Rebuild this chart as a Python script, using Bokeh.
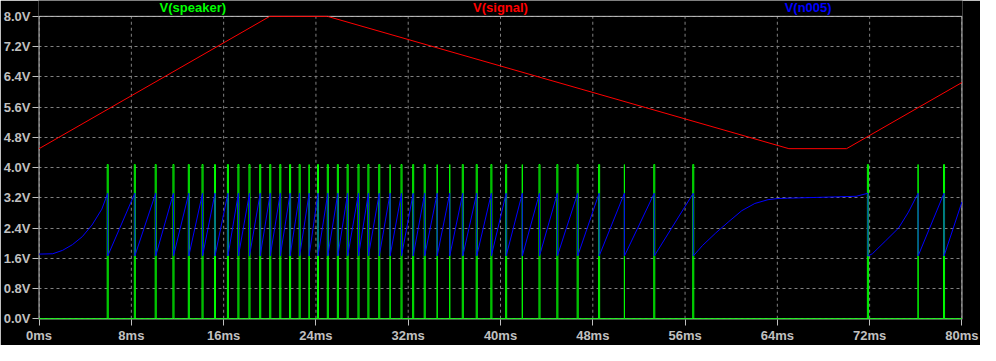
from bokeh.plotting import figure
from bokeh.models import FixedTicker, Range1d
from bokeh.core.properties import value
from bokeh.embed import file_html
from bokeh.resources import INLINE

# ---------------- data ----------------
x_ticks = [0, 8, 16, 24, 32, 40, 48, 56, 64, 72, 80]
x_labels = ["0ms", "8ms", "16ms", "24ms", "32ms", "40ms", "48ms", "56ms", "64ms", "72ms", "80ms"]
y_ticks = [0.0, 0.8, 1.6, 2.4, 3.2, 4.0, 4.8, 5.6, 6.4, 7.2, 8.0]
y_labels = ["0.0V", "0.8V", "1.6V", "2.4V", "3.2V", "4.0V", "4.8V", "5.6V", "6.4V", "7.2V", "8.0V"]

trace_names = ["V(speaker)", "V(signal)", "V(n005)"]
trace_colors = ["#00ff00", "#ff0000", "#0000ff"]
title_x_ms = [13.33, 40.0, 66.67]

# V(signal): triangle sweep
signal_t = [0, 20, 25, 65, 70, 80]
signal_v = [4.5, 8.0, 8.0, 4.5, 4.5, 6.25]

# V(speaker): pulse times (ms), pulse widths (ms) and pulse height (V)
pulse_ms = [5.95, 8.30, 10.11, 11.65, 12.98, 14.17, 15.25, 16.37, 17.28, 18.24,
            19.17, 20.04, 20.91, 21.76, 22.59, 23.41, 24.18, 25.03, 25.90, 26.75,
            27.69, 28.55, 29.49, 30.43, 31.42, 32.43, 33.43, 34.51, 35.60, 36.73,
            37.94, 39.21, 40.49, 41.89, 43.38, 44.93, 46.69, 48.55, 50.74, 53.33,
            56.71, 71.85, 76.20, 78.45]
pulse_w = [0.09, 0.09, 0.09, 0.09, 0.09, 0.09, 0.09, 0.09, 0.09, 0.09,
           0.09, 0.09, 0.09, 0.09, 0.09, 0.0, 0.09, 0.09, 0.09, 0.09,
           0.09, 0.09, 0.09, 0.0, 0.09, 0.09, 0.09, 0.0, 0.0, 0.09,
           0.09, 0.09, 0.09, 0.0, 0.09, 0.09, 0.09, 0.09, 0.0, 0.09,
           0.09, 0.09, 0.0, 0.09]
pulse_top = 4.08

# V(n005): capacitor sawtooth
saw_peak = 3.32
saw_trough = 1.66
start_t = [0.0, 1.19, 2.04, 2.89, 3.74, 4.59, 5.44, 5.95]
start_v = [1.71, 1.72, 1.81, 1.96, 2.17, 2.48, 2.90, 3.32]
stall_t = [57.52, 58.66, 59.79, 60.92, 62.05, 63.19, 64.03, 64.88, 67.43, 70.83, 71.85]
stall_v = [1.94, 2.27, 2.57, 2.86, 3.05, 3.15, 3.18, 3.19, 3.21, 3.24, 3.32]
ramp_t = [72.24, 73.38, 74.51, 75.36, 76.20]
ramp_v = [1.72, 2.06, 2.40, 2.82, 3.32]
end_t = 80.0
end_v = 3.09

# ---------------- build traces ----------------
gx, gy = [0.0], [0.0]
for t, w in zip(pulse_ms, pulse_w):
    gx += [t - w / 2, t - w / 2, t + w / 2, t + w / 2]
    gy += [0.0, pulse_top, pulse_top, 0.0]
gx.append(80.0)
gy.append(0.0)

curves = {40: (stall_t, stall_v), 41: (ramp_t, ramp_v)}
bx, by = list(start_t), list(start_v)
for k, t in enumerate(pulse_ms):
    bx.append(t)
    by.append(saw_trough)
    if k in curves:
        bx += curves[k][0]
        by += curves[k][1]
    elif k + 1 < len(pulse_ms):
        bx.append(pulse_ms[k + 1])
        by.append(saw_peak)
    else:
        bx.append(end_t)
        by.append(end_v)

x_min, x_max = x_ticks[0], x_ticks[-1]
y_min, y_max = y_ticks[0], y_ticks[-1]

# ---------------- figure ----------------
FONT = "Liberation Sans"
FRAME = "#c0c0c0"
p = figure(width=980, height=345, output_backend="svg", toolbar_location=None,
           x_range=Range1d(-0.05, 80.05), y_range=Range1d(-0.02, 8.42),
           min_border_left=36, min_border_right=18, min_border_top=0, min_border_bottom=26)
p.background_fill_color = "black"
p.border_fill_color = "black"
p.outline_line_color = None

p.xaxis.ticker = FixedTicker(ticks=x_ticks)
p.xaxis.major_label_overrides = dict(zip(x_ticks, x_labels))
p.yaxis.ticker = FixedTicker(ticks=y_ticks)
p.yaxis.major_label_overrides = dict(zip(y_ticks, y_labels))

for ax in (p.xaxis, p.yaxis):
    ax.axis_line_color = None
    ax.major_tick_line_color = FRAME
    ax.major_tick_in = 0
    ax.major_tick_out = 6
    ax.minor_tick_line_color = None
    ax.major_label_text_color = FRAME
    ax.major_label_text_font = FONT
    ax.major_label_text_font_style = "bold"
    ax.major_label_text_font_size = "13px"
p.xaxis.major_label_standoff = 2
p.yaxis.major_label_standoff = 2

p.xgrid.grid_line_color = None
p.ygrid.grid_line_color = "#808080"
p.ygrid.grid_line_dash = "3 3"
p.ygrid.grid_line_width = 1

# vertical dashed grid lines, only between 0 V and 8 V
p.segment(x0=x_ticks, y0=[y_min] * len(x_ticks), x1=x_ticks, y1=[y_max] * len(x_ticks),
          line_color="#808080", line_dash="3 3", line_width=1)
# frame: left, top, right, bottom
p.segment(x0=[x_min, x_min, x_max, x_min], y0=[y_min, y_max, y_min, y_min],
          x1=[x_min, x_max, x_max, x_max], y1=[y_max, y_max, y_max, y_min],
          line_color=FRAME, line_width=1)

p.line(gx, gy, line_color=trace_colors[0], line_width=1)
p.line(signal_t, signal_v, line_color=trace_colors[1], line_width=1)
p.line(bx, by, line_color=trace_colors[2], line_width=1)

p.text(x=title_x_ms, y=[8.24] * 3, text=trace_names, text_color=trace_colors,
       text_align="center", text_baseline="middle", text_font=value(FONT),
       text_font_style="bold", text_font_size="13px")

open("out.html", "w").write(file_html(p, INLINE))
